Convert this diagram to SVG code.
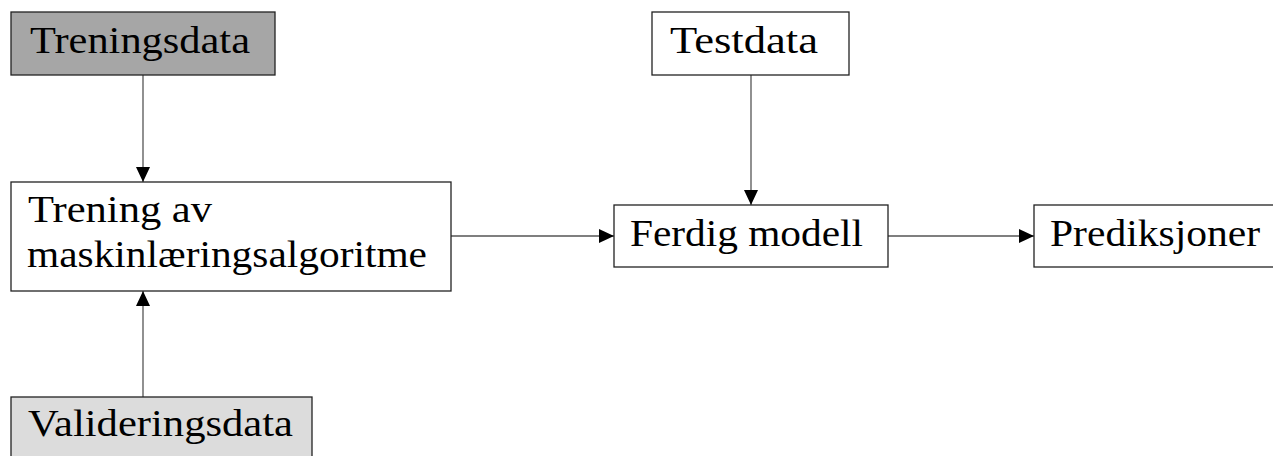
<svg xmlns="http://www.w3.org/2000/svg" width="1273" height="456" viewBox="0 0 1273 456">
  <style>
    .box { stroke: #222; stroke-width: 1.3; fill: #fff; }
    .dark { fill: #a6a6a6; }
    .light { fill: #dcdcdc; }
    .lbl { font-family: "Liberation Serif", "Times New Roman", serif; font-size: 38px; fill: #000; }
    .edge { stroke: #555; stroke-width: 1.3; fill: none; }
  </style>
  <defs>
    <marker id="arrow" markerUnits="userSpaceOnUse" markerWidth="16" markerHeight="14" refX="15" refY="7" orient="auto">
      <path d="M0,0 L15,7 L0,14 Z" fill="#000"/>
    </marker>
  </defs>

  <rect width="1273" height="456" fill="#fff"/>

  <g id="connectors">
    <line class="edge" x1="143" y1="75" x2="143" y2="182" marker-end="url(#arrow)"/>
    <line class="edge" x1="143" y1="397" x2="143" y2="291" marker-end="url(#arrow)"/>
    <line class="edge" x1="451" y1="236" x2="614" y2="236" marker-end="url(#arrow)"/>
    <line class="edge" x1="751" y1="75" x2="751" y2="205" marker-end="url(#arrow)"/>
    <line class="edge" x1="888" y1="236" x2="1034" y2="236" marker-end="url(#arrow)"/>
  </g>

  <g id="treningsdata">
    <rect class="box dark" x="11" y="12" width="264" height="63"/>
    <text class="lbl" x="30" y="53" textLength="220" lengthAdjust="spacingAndGlyphs">Treningsdata</text>
  </g>

  <g id="trening">
    <rect class="box" x="11" y="182" width="440" height="109"/>
    <text class="lbl" x="28" y="222" textLength="184" lengthAdjust="spacingAndGlyphs">Trening av</text>
    <text class="lbl" x="27" y="267" textLength="400" lengthAdjust="spacingAndGlyphs">maskinlæringsalgoritme</text>
  </g>

  <g id="validering">
    <rect class="box light" x="11" y="397" width="301" height="70"/>
    <text class="lbl" x="28" y="436" textLength="265" lengthAdjust="spacingAndGlyphs">Valideringsdata</text>
  </g>

  <g id="testdata">
    <rect class="box" x="652" y="12" width="197" height="63"/>
    <text class="lbl" x="670" y="53" textLength="148" lengthAdjust="spacingAndGlyphs">Testdata</text>
  </g>

  <g id="ferdig-modell">
    <rect class="box" x="614" y="205" width="274" height="62"/>
    <text class="lbl" x="630" y="246" textLength="233" lengthAdjust="spacingAndGlyphs">Ferdig modell</text>
  </g>

  <g id="prediksjoner">
    <rect class="box" x="1034" y="205" width="260" height="62"/>
    <text class="lbl" x="1050" y="246" textLength="210" lengthAdjust="spacingAndGlyphs">Prediksjoner</text>
  </g>
</svg>
